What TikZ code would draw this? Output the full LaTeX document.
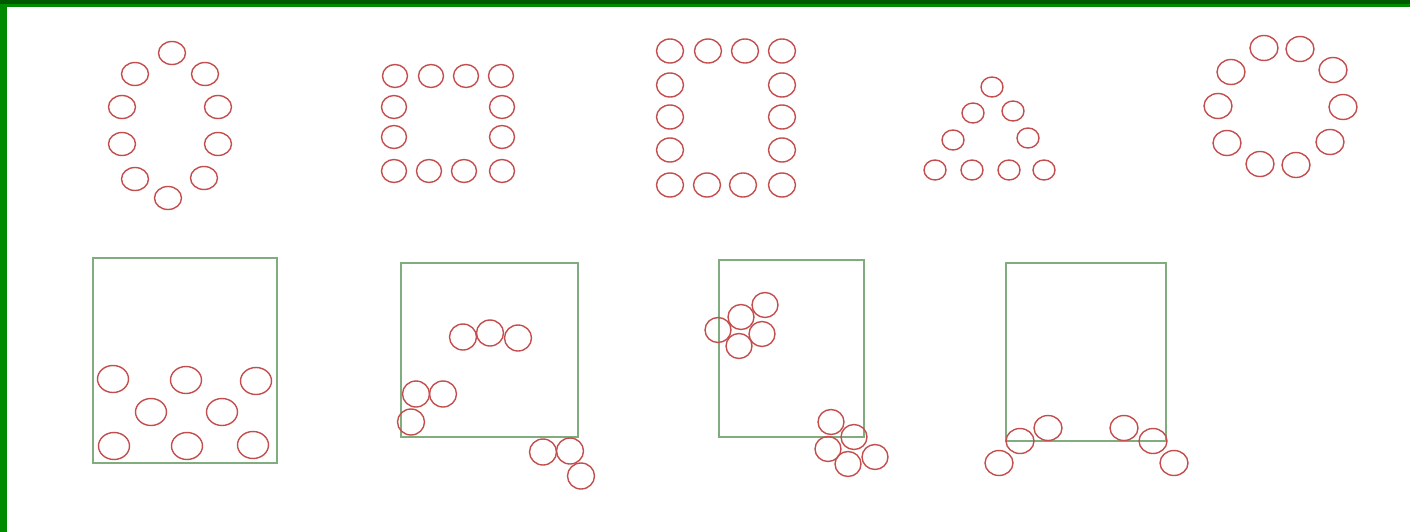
\documentclass[tikz,border=0pt]{standalone}
\definecolor{ballred}{RGB}{196,78,78}
\definecolor{tankgreen}{RGB}{128,172,128}
\definecolor{framegreen}{RGB}{0,138,0}
\definecolor{framedark}{RGB}{0,88,0}
\begin{document}
\begin{tikzpicture}[x=1pt,y=-1pt,
  ball/.style={draw=ballred, line width=1.4pt},
  tank/.style={draw=tankgreen, line width=1.7pt}]
\useasboundingbox (0,0) rectangle (1410,532);
\fill[white] (0,0) rectangle (1410,532);
\fill[framegreen] (0,0) rectangle (7,532);
\fill[framegreen] (0,0) rectangle (1410,7);
\fill[framedark] (0,0) rectangle (1410,4);
% group 1: oval ring
\foreach \x/\y in {172/53,135/74,205/74,122/107,218/107,122/144,218/144,135/179,204/178,168/198}
  \draw[ball] (\x,\y) ellipse [x radius=13.5pt, y radius=11.5pt];
% group 2: small square
\foreach \x/\y in {395/76,431/76,466/76,501/76,394/107,502/107,394/137,502/137,394/171,429/171,464/171,502/171}
  \draw[ball] (\x,\y) ellipse [x radius=12.5pt, y radius=11.5pt];
% group 3: tall rectangle
\foreach \x/\y in {670/51,708/51,745/51,782/51,670/85,782/85,670/117,782/117,670/150,782/150,670/185,707/185,743/185,782/185}
  \draw[ball] (\x,\y) ellipse [x radius=13.5pt, y radius=12pt];
% group 4: triangle
\foreach \x/\y in {992/87,973/113,1013/111,953/140,1028/138,935/170,972/170,1009/170,1044/170}
  \draw[ball] (\x,\y) ellipse [x radius=11pt, y radius=10pt];
% group 5: ring
\foreach \x/\y in {1264/48,1300/49,1231/72,1333/70,1218/106,1343/107,1227/143,1330/142,1260/164,1296/165}
  \draw[ball] (\x,\y) ellipse [x radius=14pt, y radius=12.5pt];
% tanks
\draw[tank] (93,258) rectangle (277,463);
\draw[tank] (401,263) rectangle (578,437);
\draw[tank] (719,260) rectangle (864,437);
\draw[tank] (1006,263) rectangle (1166,441);
% tank 1 balls
\foreach \x/\y in {113/379,186/380,256/381,151/412,222/412,114/446,187/446,253/445}
  \draw[ball] (\x,\y) ellipse [x radius=15.5pt, y radius=13.5pt];
% tank 2 balls
\foreach \x/\y in {463/337,490/333,518/338,416/394,443/394,411/422,543/452,570/451,581/476}
  \draw[ball] (\x,\y) ellipse [x radius=13.5pt, y radius=13pt];
% tank 3 balls
\foreach \x/\y in {765/305,741/317,718/330,762/334,739/346,831/422,854/437,828/449,875/457,848/464}
  \draw[ball] (\x,\y) ellipse [x radius=13pt, y radius=12.5pt];
% tank 4 balls
\foreach \x/\y in {1048/428,1020/441,999/463,1124/428,1153/441,1174/463}
  \draw[ball] (\x,\y) ellipse [x radius=14pt, y radius=12.5pt];
\end{tikzpicture}
\end{document}
